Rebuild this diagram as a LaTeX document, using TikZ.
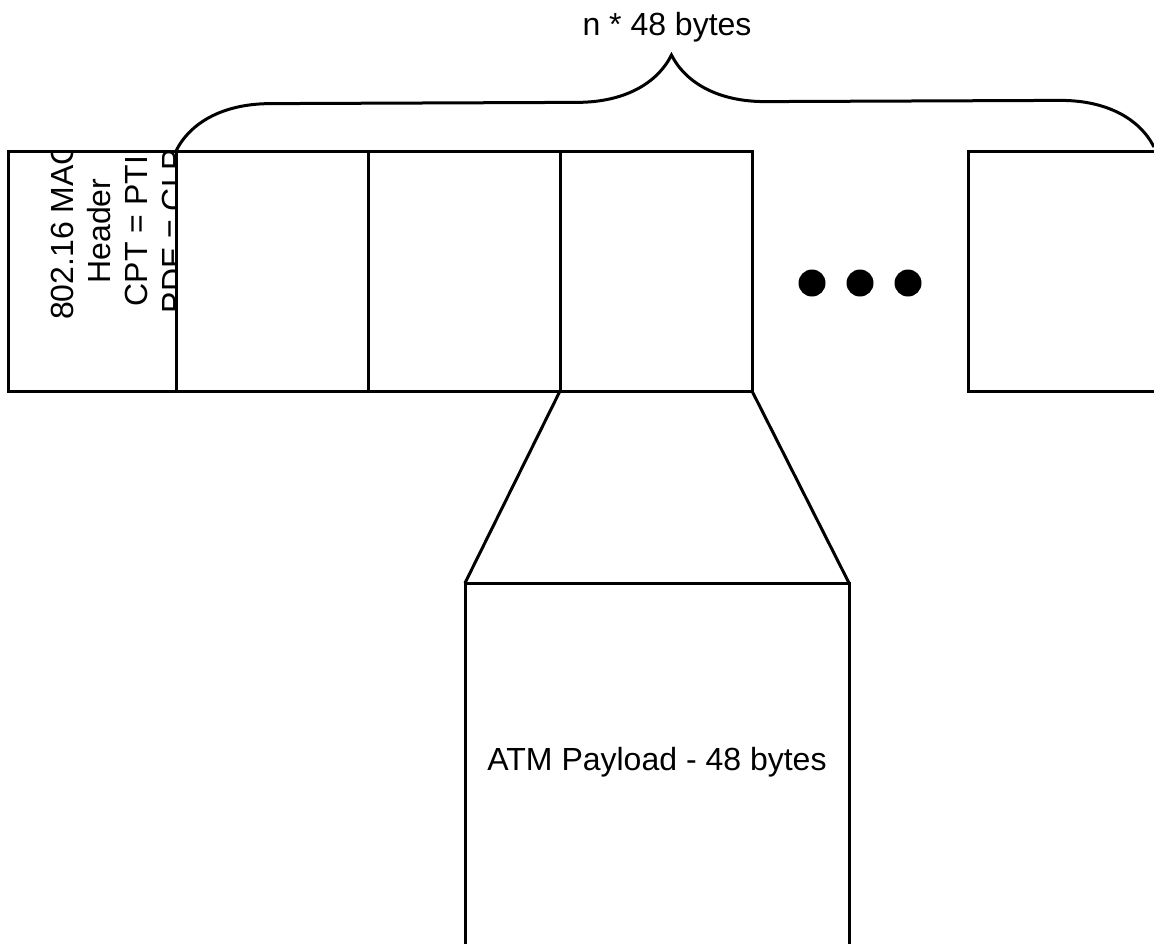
\documentclass[tikz,border=0pt]{standalone}
\usepackage{fontspec}
\setmainfont{Liberation Sans}
\usetikzlibrary{positioning,decorations.pathreplacing}

\begin{document}
\begin{tikzpicture}[x=0.5pt,y=-0.5pt,
  cellbox/.style={draw,line width=1.5pt,inner sep=0pt,outer sep=0pt,minimum width=96pt,minimum height=120pt},
  ellipsisdot/.style={circle,fill=black,inner sep=0pt,minimum size=13.5pt},
  lbl/.style={font=\fontsize{16}{18.5}\selectfont}]
  \useasboundingbox (0,0) rectangle (1154,943);
  % MAC header, text cut off by its box
  \node[cellbox,minimum width=84pt] (hdr) at (92,271) {};
  \begin{scope}
    \clip (hdr.south west) rectangle (hdr.north east);
    \node[lbl,rotate=90,align=center] (hdrtext) at (118,231) {802.16 MAC\\Header\\CPT = PTI\\PDE = CLP};
  \end{scope}
  \node[cellbox,right=0pt of hdr] (c1) {};
  \node[cellbox,right=0pt of c1] (c2) {};
  \node[cellbox,right=0pt of c2] (c3) {};
  \foreach \x/\n in {812/1,860/2,908/3}{
    \node[ellipsisdot] (dot\n) at (\x,283) {};
  }
  \node[cellbox,minimum width=125pt,anchor=north west] (cn) at (968,151) {};
  % brace over the payload cells
  \coordinate (braceend) at (1154,147);
  \draw[line width=1.5pt,decorate,decoration={brace,amplitude=47pt,aspect=0.507}] (c1.north west) -- (braceend);
  \node[lbl] (bracetext) at (667,27) {n * 48 bytes};
  % one cell blown up
  \node[cellbox,minimum width=192pt,minimum height=210pt,anchor=north] (pay) at (657,583) {};
  \node[lbl] (paytext) at (657,762) {ATM Payload - 48 bytes};
  \draw[line width=1.5pt] (c3.south west) -- (pay.north west);
  \draw[line width=1.5pt] (c3.south east) -- (pay.north east);
\end{tikzpicture}
\end{document}
